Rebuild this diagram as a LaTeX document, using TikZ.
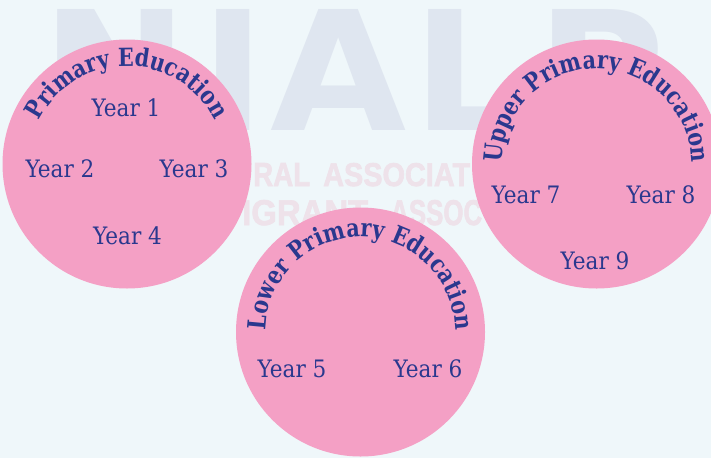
\documentclass[tikz,border=0pt]{standalone}
\usepackage{fontspec}
\usepackage{graphicx}
\usetikzlibrary{decorations.text}
\newfontfamily\yrfont[FakeStretch=0.9]{DejaVu Serif}
\newfontfamily\ttlfont[FakeStretch=0.83]{DejaVu Serif Bold}
\newfontfamily\wmfont[FakeStretch=1.06]{DejaVu Sans Bold}
\newfontfamily\wmtwo[FakeBold=2]{Liberation Sans Bold}
\definecolor{bgc}{RGB}{239,247,250}
\definecolor{pinkc}{RGB}{244,160,197}
\definecolor{navyc}{RGB}{42,56,142}
\definecolor{wmblue}{RGB}{223,230,240}
\definecolor{wmpink}{RGB}{238,226,234}
\begin{document}
\begin{tikzpicture}[x=1pt,y=1pt,
  circ/.style={circle, fill=pinkc, minimum size=249pt, inner sep=0pt},
  yr/.style={anchor=base, text=navyc, font=\yrfont\fontsize{24}{24}\selectfont, inner sep=0pt},
  wm/.style={text=wmblue, font=\wmfont\fontsize{166}{166}\selectfont, inner sep=0pt},
  wmb/.style={anchor=base west, text=wmpink, inner sep=0pt, font=\wmtwo\fontsize{30}{30}\selectfont},
  ttl/.style={decorate, decoration={text along path, text align=center, text color=navyc,
     text={|\ttlfont\fontsize{25}{25}\selectfont|#1}}}
]
\path[fill=bgc] (0,0) rectangle (711,-458);
\useasboundingbox (0,0) rectangle (711,-458);
\clip (0,0) rectangle (711,-458);
% watermark letters
\node[wm, anchor=base] (wN) at (115.5,-130) {N};
\node[wm, anchor=base] (wI) at (233,-130) {I};
\node[wm, anchor=base] (wA) at (339,-130) {A};
\node[wm, anchor=base west] (wL) at (412,-130) {L};
\node[wm, anchor=base west] (wP) at (536,-130) {P};
% watermark second text
\node[wmb] (m1) at (253,-186) {\resizebox{57pt}{23pt}{RAL}};
\node[wmb] (m2) at (323,-186) {\resizebox{147pt}{23pt}{ASSOCIAT}};
\node[wmb] (m3) at (242,-225) {\resizebox{126pt}{25pt}{IGRANT}};
\node[wmb] (m4) at (390,-225) {\resizebox{92pt}{25pt}{ASSOC}};
% circles
\node[circ] (c1) at (127,-164) {};
\node[circ] (c3) at (596.5,-164) {};
\node[circ] (c2) at (360.5,-332) {};
% titles
\path[ttl={Primary Education}] (c1.center) ++(200:98) arc[start angle=200, end angle=-20, radius=98];
\path[ttl={Upper Primary Education}] (c3.center) ++(200:95) arc[start angle=200, end angle=-20, radius=95];
\path[ttl={Lower Primary Education}] (c2.center) ++(200:95) arc[start angle=200, end angle=-20, radius=95];
% years
\node[yr] (y1) at (126,-116) {Year 1};
\node[yr] (y2) at (60,-177) {Year 2};
\node[yr] (y3) at (194,-177) {Year 3};
\node[yr] (y4) at (127.5,-244) {Year 4};
\node[yr] (y5) at (292,-377) {Year 5};
\node[yr] (y6) at (428,-377) {Year 6};
\node[yr] (y7) at (526,-203) {Year 7};
\node[yr] (y8) at (661,-203) {Year 8};
\node[yr] (y9) at (595,-269) {Year 9};
\end{tikzpicture}
\end{document}
